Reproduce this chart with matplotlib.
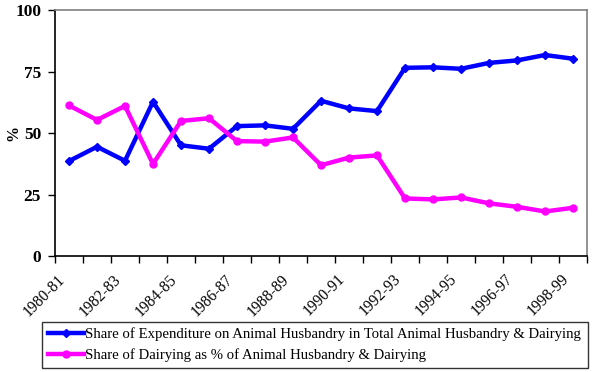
import numpy as np
import matplotlib
matplotlib.use("Agg")
import matplotlib.pyplot as plt
from matplotlib.transforms import ScaledTranslation

years = ["1980-81", "1981-82", "1982-83", "1983-84", "1984-85", "1985-86", "1986-87",
         "1987-88", "1988-89", "1989-90", "1990-91", "1991-92", "1992-93", "1993-94",
         "1994-95", "1995-96", "1996-97", "1997-98", "1998-99"]
animal_husbandry = [38.6, 44.4, 38.7, 62.7, 45.0, 43.6, 52.8, 53.1, 51.7, 63.1,
                    60.0, 58.9, 76.5, 76.7, 76.1, 78.5, 79.5, 81.7, 80.2]
dairying = [61.2, 55.3, 61.0, 37.4, 54.9, 56.0, 46.7, 46.5, 48.2, 36.9,
            40.0, 40.9, 23.4, 23.0, 23.8, 21.4, 20.0, 18.1, 19.6]

label_ah = "Share of Expenditure on Animal Husbandry in Total Animal Husbandry & Dairying"
label_d = "Share of Dairying as % of Animal Husbandry & Dairying"

plt.rcParams['font.family'] = ['Liberation Serif', 'DejaVu Serif']

fig = plt.figure(figsize=(5.99, 3.72), dpi=100)
ax = fig.add_axes([55/599, 1 - 256/372, 532/599, 246/372])

x = np.arange(len(years))
ax.plot(x, animal_husbandry, color='#0000ff', linewidth=3.2, marker='D', markersize=4, label=label_ah)
ax.plot(x, dairying, color='#ff00ff', linewidth=3.2, marker='o', markersize=5, label=label_d)

ax.set_xlim(-0.5, len(years) - 0.5)
ax.set_ylim(0, 100)
ax.set_yticks([0, 25, 50, 75, 100])
ax.tick_params(axis='y', labelsize=12.5, length=5, width=1, direction='out', pad=5)
for t in ax.get_yticklabels():
    t.set_fontweight('bold')
ax.set_ylabel('%', fontsize=11.5, fontweight='bold')
ax.yaxis.set_label_coords(-0.064, 0.5)

ax.set_xticks(x[::2])
ax.set_xticklabels(years[::2], rotation=45, ha='right', rotation_mode='anchor', fontsize=11.2)
ax.set_xticks(np.arange(-0.5, len(years)), minor=True)
ax.tick_params(axis='x', which='major', length=0, pad=11)
ax.tick_params(axis='x', which='minor', length=5, width=1, direction='out')
shift = ScaledTranslation(-12/100, 0, fig.dpi_scale_trans)
for t in ax.get_xticklabels():
    t.set_transform(t.get_transform() + shift)

ax.spines['top'].set_color('#808080')
ax.spines['right'].set_color('#808080')
for s in ax.spines.values():
    s.set_linewidth(1.2)

leg = fig.legend(loc='center', bbox_to_anchor=(35/599, 5/372, 560/599, 44/372), mode='expand',
                 fontsize=10.6, frameon=True, fancybox=False, edgecolor='black',
                 handlelength=2.4, handletextpad=0.1, borderpad=0.4, labelspacing=0.5)
leg.get_frame().set_linewidth(1.0)

fig.savefig('out.png', dpi=100)
